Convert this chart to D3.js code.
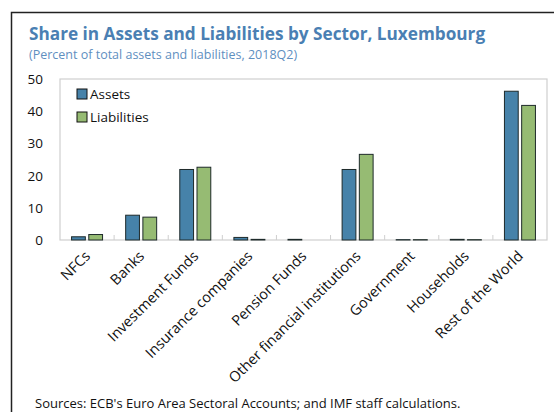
<!DOCTYPE html>
<html>
<head>
<meta charset="utf-8">
<script src="https://cdn.jsdelivr.net/npm/d3@7"></script>
<style>
  body { margin: 0; background: #fff; }
  svg { display: block; font-family: "Open Sans", "Noto Sans", sans-serif; }
</style>
</head>
<body>
<div id="chart"></div>
<script>
// sectors and shares (percent of total assets / liabilities, 2018Q2)
const sectors = ["NFCs", "Banks", "Investment Funds", "Insurance companies", "Pension Funds",
  "Other financial institutions", "Government", "Households", "Rest of the World"];
const assets = [1.0, 7.7, 21.9, 0.8, 0.2, 21.9, 0.1, 0.2, 46.2];
const liabilities = [1.7, 7.1, 22.6, 0.2, 0.0, 26.6, 0.1, 0.1, 41.8];
const yTicks = [0, 10, 20, 30, 40, 50];
const seriesNames = ["Assets", "Liabilities"];
const colors = ["#4682a9", "#96bb73"];

const width = 554, height = 412;
const margin = {top: 79, right: 7, bottom: 172, left: 60};
const plotW = width - margin.left - margin.right;
const plotH = height - margin.top - margin.bottom;

const svg = d3.select("#chart").append("svg")
    .attr("width", width)
    .attr("height", height);

// outer frame (left and top edges only visible)
svg.append("path")
    .attr("d", "M11.5," + height + "V12.5H" + width)
    .attr("fill", "none")
    .attr("stroke", "#222")
    .attr("stroke-width", 1.5);

svg.append("text")
    .attr("x", 29).attr("y", 40)
    .attr("fill", "#4a7fb3")
    .attr("font-weight", "bold")
    .attr("font-size", 17.2)
    .text("Share in Assets and Liabilities by Sector, Luxembourg");

svg.append("text")
    .attr("x", 29).attr("y", 59)
    .attr("fill", "#5f8fbf")
    .attr("font-size", 12.5)
    .text("(Percent of total assets and liabilities, 2018Q2)");

const g = svg.append("g").attr("transform", `translate(${margin.left},${margin.top})`);

const x = d3.scaleBand().domain(sectors).range([0, plotW]);
const xInner = d3.scaleBand().domain(seriesNames).range([0, 31]).paddingInner(0.2);
const y = d3.scaleLinear().domain([0, 50]).range([plotH, 0]);

// plot border
g.append("rect")
    .attr("width", plotW).attr("height", plotH)
    .attr("fill", "none")
    .attr("stroke", "#cfcfcf")
    .attr("stroke-width", 1.2);

// category separator ticks
g.selectAll(".sep").data(sectors.slice(1)).enter().append("line")
    .attr("x1", d => x(d)).attr("x2", d => x(d))
    .attr("y1", plotH - 5).attr("y2", plotH)
    .attr("stroke", "#cfcfcf");

// y axis labels
g.selectAll(".ylab").data(yTicks).enter().append("text")
    .attr("x", -17).attr("y", d => y(d) + 5)
    .attr("text-anchor", "end")
    .attr("font-size", 13.5)
    .attr("fill", "#111")
    .text(d => d);

// bars
const rows = sectors.map((s, i) => ({sector: s, vals: [assets[i], liabilities[i]]}));
const grp = g.selectAll(".grp").data(rows).enter().append("g")
    .attr("transform", d => `translate(${x(d.sector) + x.bandwidth() / 2 - 15.5},0)`);
grp.selectAll("rect").data(d => d.vals.map((v, k) => ({name: seriesNames[k], v: v, k: k})))
    .enter().append("rect")
    .filter(d => d.v > 0)
    .attr("x", d => xInner(d.name))
    .attr("width", xInner.bandwidth())
    .attr("y", d => y(d.v))
    .attr("height", d => y(0) - y(d.v))
    .attr("fill", d => colors[d.k])
    .attr("stroke", "#1e2a2a")
    .attr("stroke-width", 1);

// x labels, rotated
g.selectAll(".xlab").data(sectors).enter().append("text")
    .attr("transform", d => `translate(${x(d) + x.bandwidth() / 2 + 4},${plotH + 17}) rotate(-45)`)
    .attr("text-anchor", "end")
    .attr("font-size", 14.5)
    .attr("fill", "#111")
    .text(d => d);

// legend
const leg = g.selectAll(".leg").data(seriesNames).enter().append("g")
    .attr("transform", (d, i) => `translate(17,${10 + i * 23})`);
leg.append("rect")
    .attr("width", 10).attr("height", 10)
    .attr("fill", (d, i) => colors[i])
    .attr("stroke", "#111");
leg.append("text")
    .attr("x", 13).attr("y", 10)
    .attr("font-size", 13.5)
    .attr("fill", "#111")
    .text(d => d);

svg.append("text")
    .attr("x", 35).attr("y", 408)
    .attr("font-size", 13)
    .attr("fill", "#111")
    .text("Sources: ECB's Euro Area Sectoral Accounts; and IMF staff calculations.");
</script>
</body>
</html>
